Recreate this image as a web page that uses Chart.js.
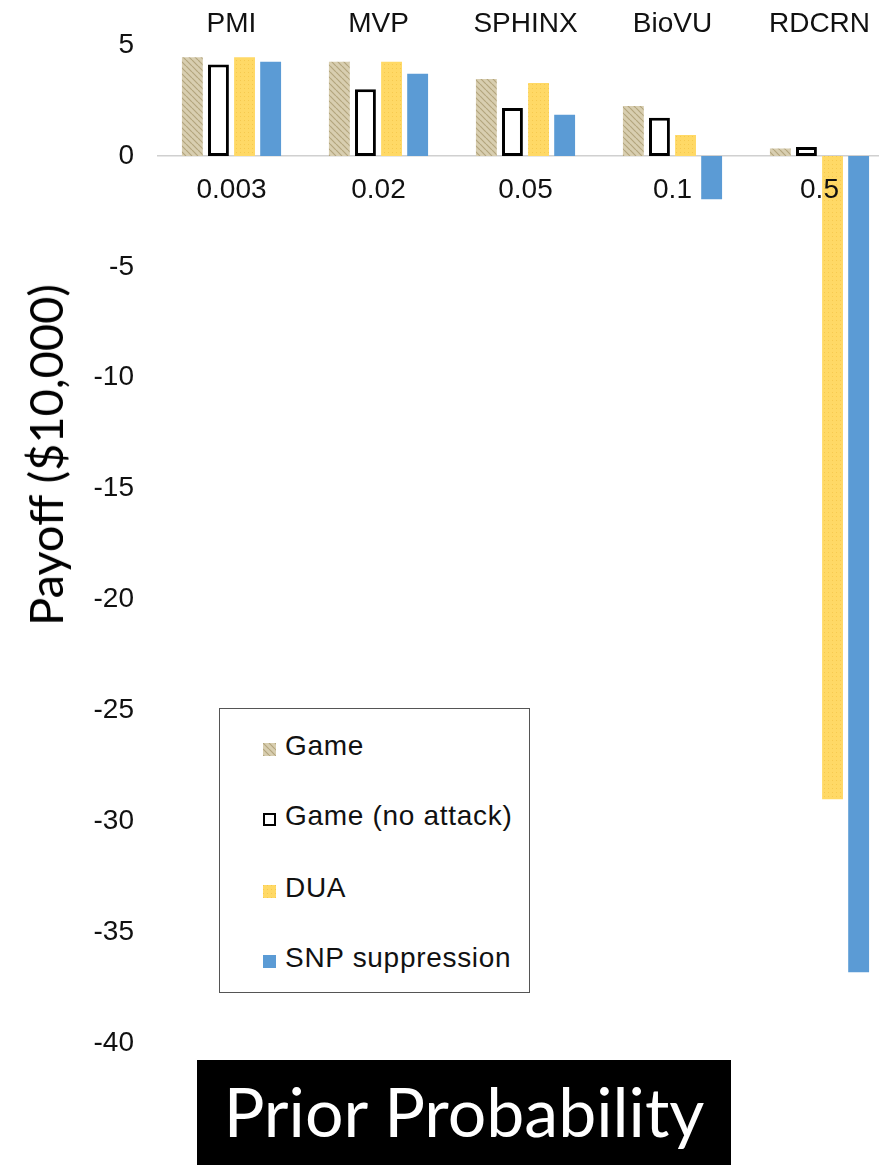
<!DOCTYPE html>
<html>
<head>
<meta charset="utf-8">
<script src="https://cdn.jsdelivr.net/npm/chart.js@4"></script>
<style>
body { margin: 0; width: 879px; height: 1165px; overflow: hidden; background: #fff; position: relative; font-family: 'Liberation Sans', Arial, sans-serif }
#canvasGrafico { position: absolute; left: 0; top: 0 }
#tituloY { position: absolute; left: 45px; top: 455px; transform: translate(-50%, -50%) rotate(-90deg); font-family: Lato, sans-serif; font-size: 47px; white-space: nowrap; color: #000 }
#legenda { position: absolute; left: 219px; top: 708px; width: 309px; height: 283px; border: 1.5px solid #555; background: #fff }
.item { position: absolute; left: 43px; font-size: 28px; letter-spacing: 0.7px; height: 30px; line-height: 30px; white-space: nowrap; color: #111 }
.caixa { display: inline-block; width: 13px; height: 13px; margin-right: 9px; vertical-align: -1px; box-sizing: border-box }
#tituloX { position: absolute; left: 197px; top: 1060px; width: 534px; height: 105px; background: #000; color: #fff; font-family: Lato, sans-serif; font-size: 68px; text-align: center; line-height: 102px }
</style>
</head>
<body>
<canvas id="canvasGrafico" width="900" height="1084"></canvas>
<div id="tituloY">Payoff ($10,000)</div>
<div id="legenda"></div>
<div id="tituloX">Prior Probability</div>
<script>
// dados
var categorias = ['PMI', 'MVP', 'SPHINX', 'BioVU', 'RDCRN']
var probabilidades = ['0.003', '0.02', '0.05', '0.1', '0.5']
var game = [4.45, 4.24, 3.47, 2.25, 0.33]
var gameSemAtaque = [4.12, 3.0, 2.16, 1.72, 0.40]
var dua = [4.45, 4.24, 3.29, 0.94, -29.0]
var snp = [4.24, 3.70, 1.86, -1.95, -36.8]
var nomesSeries = ['Game', 'Game (no attack)', 'DUA', 'SNP suppression']

var ctx = document.getElementById('canvasGrafico').getContext('2d')

function criarTile(tamanho, desenho){
    var c = document.createElement('canvas')
    c.width = tamanho
    c.height = tamanho
    desenho(c.getContext('2d'), tamanho)
    return c
}

var tileGame = criarTile(6, function(g, s){
    g.fillStyle = '#d8ceb0'
    g.fillRect(0, 0, s, s)
    g.strokeStyle = '#b3a57e'
    g.lineWidth = 1.2
    g.beginPath()
    ;[-s, 0, s].forEach(function(k){
        g.moveTo(k, 0)
        g.lineTo(k + s, s)
    })
    g.stroke()
})

var tileDua = criarTile(4, function(g, s){
    g.fillStyle = '#ffd966'
    g.fillRect(0, 0, s, s)
    g.fillStyle = '#f6c94e'
    g.fillRect(0, 0, 1, 1)
})

var padraoGame = ctx.createPattern(tileGame, 'repeat')
var padraoDua = ctx.createPattern(tileDua, 'repeat')

var fonteEixo = { family: 'Liberation Sans', size: 28 }

var chart = new Chart(ctx, {
    type: 'bar',
    data: {
        labels: categorias,
        datasets: [
            { label: nomesSeries[0], data: game, backgroundColor: padraoGame, borderWidth: 0 },
            { label: nomesSeries[1], data: gameSemAtaque, backgroundColor: '#ffffff', borderColor: '#000000', borderWidth: 3, borderSkipped: false },
            { label: nomesSeries[2], data: dua, backgroundColor: padraoDua, borderWidth: 0 },
            { label: nomesSeries[3], data: snp, backgroundColor: '#5b9bd5', borderWidth: 0 }
        ]
    },
    options: {
        responsive: false,
        animation: false,
        layout: { padding: { left: 0, right: 7, top: 0, bottom: 27 } },
        datasets: { bar: { barPercentage: 0.8, categoryPercentage: 0.71 } },
        plugins: { legend: { display: false }, tooltip: { enabled: false } },
        scales: {
            x: {
                position: 'top',
                grid: { display: false, drawTicks: false },
                border: { display: false },
                ticks: { font: fonteEixo, color: '#111', padding: 4 },
                afterFit: function(s){ s.height = 45 }
            },
            // linha do zero (atras das barras) e rotulos de probabilidade (por cima)
            x2: {
                axis: 'x',
                type: 'category',
                labels: probabilidades,
                position: { y: 0 },
                grid: { display: false, drawTicks: false },
                border: { display: true, color: '#d0d0d0', width: 1.5, z: 0 },
                ticks: { font: fonteEixo, color: '#111', padding: 18, z: 1 },
                afterFit: function(s){ s.height = 0 }
            },
            y: {
                min: -40,
                max: 5,
                ticks: { stepSize: 5, font: fonteEixo, color: '#111', padding: 24 },
                grid: { display: false, drawTicks: false },
                border: { display: false },
                afterFit: function(s){ s.width = 158 }
            }
        }
    }
})

// legenda montada a partir das series
var legenda = document.getElementById('legenda')
var centros = [37, 107, 179, 249]
var estilosCaixa = [
    'background-image:url(' + tileGame.toDataURL() + ')',
    'background:#fff;border:2px solid #000',
    'background-image:url(' + tileDua.toDataURL() + ')',
    'background:#5b9bd5'
]
nomesSeries.forEach(function(nome, i){
    var item = document.createElement('div')
    item.className = 'item'
    item.style.top = (centros[i] - 15) + 'px'
    item.innerHTML = '<span class="caixa" style="' + estilosCaixa[i] + '"></span>'
    item.appendChild(document.createTextNode(nome))
    legenda.appendChild(item)
})
</script>
</body>
</html>
